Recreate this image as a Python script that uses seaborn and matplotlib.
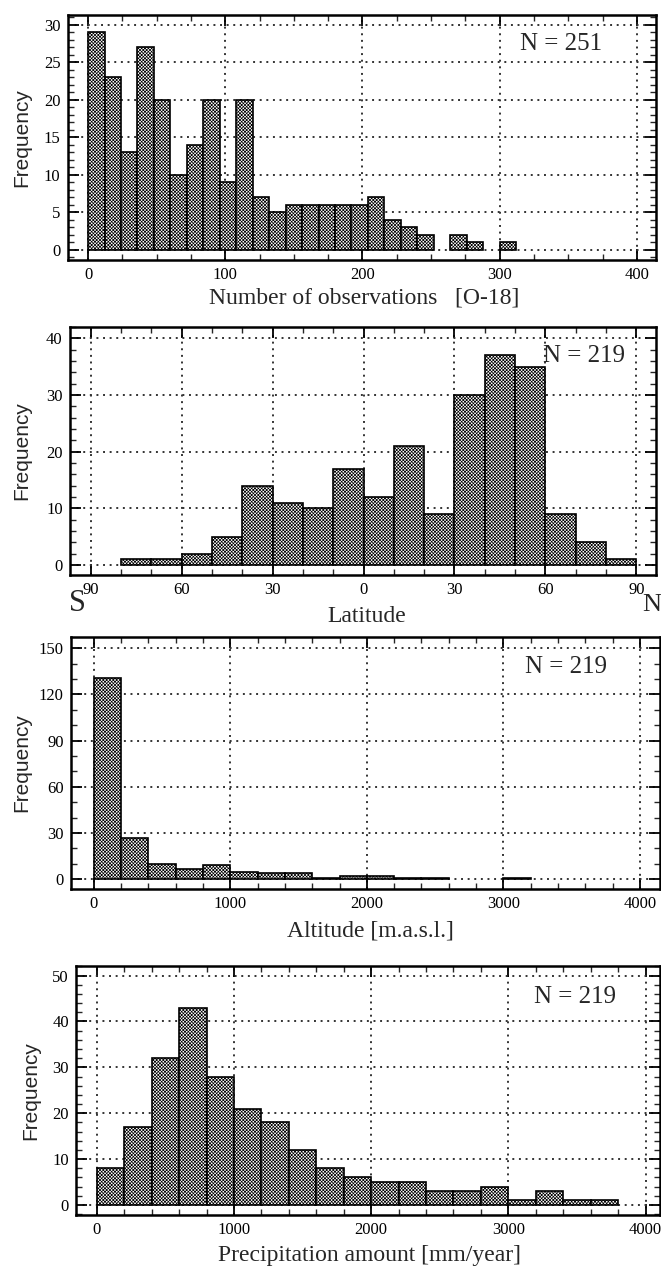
import numpy as np
import pandas as pd
import matplotlib
matplotlib.use("Agg")
import matplotlib.pyplot as plt
from matplotlib.ticker import MultipleLocator
import seaborn as sns

# ---------------- data ----------------
obs_edges = list(range(0, 313, 12))            # 0..312, width 12
obs_counts = [29, 23, 13, 27, 20, 10, 14, 20, 9, 20, 7, 5, 6, 6, 6, 6, 6, 7, 4, 3, 2,
              0, 2, 1, 0, 1]
obs_N = "N = 251"

lat_edges = list(range(-80, 91, 10))
lat_counts = [1, 1, 2, 5, 14, 11, 10, 17, 12, 21, 9, 30, 37, 35, 9, 4, 1]
lat_ticks = [-90, -60, -30, 0, 30, 60, 90]
lat_tick_labels = ["90", "60", "30", "0", "30", "60", "90"]
lat_N = "N = 219"

alt_edges = list(range(0, 3201, 200))
alt_counts = [131, 27, 10, 7, 9, 5, 4, 4, 1, 2, 2, 1, 1, 0, 0, 1]
alt_N = "N = 219"

pre_edges = list(range(0, 3801, 200))
pre_counts = [8, 17, 32, 43, 28, 21, 18, 12, 8, 6, 5, 5, 3, 3, 4, 1, 3, 1, 1]
pre_N = "N = 219"

# ---------------- style ----------------
sns.set_theme(style="ticks")
plt.rcParams["font.family"] = ["Liberation Serif", "DejaVu Serif"]
plt.rcParams["hatch.linewidth"] = 0.5
plt.rcParams["hatch.color"] = "black"

W, H = 661, 1268
fig = plt.figure(figsize=(W / 100, H / 100), dpi=100)
fig.patch.set_facecolor("white")


def add_ax(l, r, t, b):
    return fig.add_axes([l / W, 1 - b / H, (r - l) / W, (b - t) / H])


def fx(x):
    return x / W


def fy(y):
    return 1 - y / H


def draw_hist(ax, edges, counts, hide_zero=True):
    e = np.asarray(edges, dtype=float)
    centers = (e[:-1] + e[1:]) / 2
    df = pd.DataFrame({"x": centers, "w": counts})
    sns.histplot(data=df, x="x", weights="w", bins=[float(v) for v in e], ax=ax,
                 stat="count", color="white", edgecolor="black", linewidth=1.2,
                 alpha=1, hatch="x" * 10, zorder=3)
    if hide_zero:
        for p in ax.patches:
            if p.get_height() == 0:
                p.set_visible(False)


def style_ax(ax, xlim, ylim, xticks, yticks, xminor, yminor, ylab_x_px, l, r):
    ax.set_xlim(*xlim)
    ax.set_ylim(*ylim)
    ax.set_xticks(list(xticks))
    ax.set_yticks(list(yticks))
    ax.xaxis.set_minor_locator(MultipleLocator(xminor))
    ax.yaxis.set_minor_locator(MultipleLocator(yminor))
    ax.grid(True, which="major", color="#333333", linestyle=(0, (1, 2.4)),
            linewidth=1.4)
    ax.set_axisbelow(True)
    for sp in ax.spines.values():
        sp.set_visible(True)
        sp.set_linewidth(1.8)
        sp.set_color("black")
    ax.tick_params(which="major", direction="in", top=True, right=True,
                   length=8, width=1.3, labelsize=12, pad=5, colors="black")
    ax.tick_params(which="minor", direction="in", top=True, right=True,
                   length=4, width=1.0)
    ax.set_xlabel("")
    ax.set_ylabel("Frequency", fontsize=15, family=["Liberation Sans", "DejaVu Sans"])
    ax.yaxis.set_label_coords((ylab_x_px - l) / (r - l), 0.5)
    ax.set_facecolor("white")


# ---- panel 1 ----
l, r, t, b = 67.5, 656, 15, 260
ax1 = add_ax(l, r, t, b)
draw_hist(ax1, obs_edges, obs_counts)
style_ax(ax1, (-15, 414), (-1.4, 31.3), range(0, 401, 100), range(0, 31, 5), 25, 1, 31, l, r)
fig.text(fx(561), fy(50), obs_N, ha="center", va="baseline", fontsize=18)
fig.text(fx(364), fy(298), "Number of observations   [O-18]", ha="center", va="center", fontsize=17)

# ---- panel 2 ----
l, r, t, b = 69.6, 656, 327, 575
ax2 = add_ax(l, r, t, b)
draw_hist(ax2, lat_edges, lat_counts)
style_ax(ax2, (-97, 96.5), (-1.76, 42), lat_ticks, range(0, 41, 10), 10, 2, 31.5, l, r)
ax2.set_xticklabels(lat_tick_labels)
fig.text(fx(77), fy(604), "S", ha="center", va="center", fontsize=22)
fig.text(fx(661), fy(605), "N", ha="right", va="center", fontsize=19)
fig.text(fx(584), fy(362), lat_N, ha="center", va="baseline", fontsize=18)
fig.text(fx(367), fy(617), "Latitude", ha="center", va="center", fontsize=17)

# ---- panel 3 ----
l, r, t, b = 70.8, 660, 637, 889
ax3 = add_ax(l, r, t, b)
draw_hist(ax3, alt_edges, alt_counts)
style_ax(ax3, (-167, 4146), (-6.3, 157.3), range(0, 4001, 1000), range(0, 151, 30), 200, 10, 31.5, l, r)
fig.text(fx(566), fy(673), alt_N, ha="center", va="baseline", fontsize=18)
fig.text(fx(370), fy(931), "Altitude [m.a.s.l.]", ha="center", va="center", fontsize=17)

# ---- panel 4 ----
l, r, t, b = 75.9, 659.5, 966, 1215
ax4 = add_ax(l, r, t, b)
draw_hist(ax4, pre_edges, pre_counts)
style_ax(ax4, (-153, 4102), (-2.2, 52.1), range(0, 4001, 1000), range(0, 51, 10), 200, 2, 40, l, r)
fig.text(fx(575), fy(1003), pre_N, ha="center", va="baseline", fontsize=18)
fig.text(fx(369), fy(1256), "Precipitation amount [mm/year]", ha="center", va="center", fontsize=17)

fig.savefig("out.png", dpi=100, facecolor="white")
